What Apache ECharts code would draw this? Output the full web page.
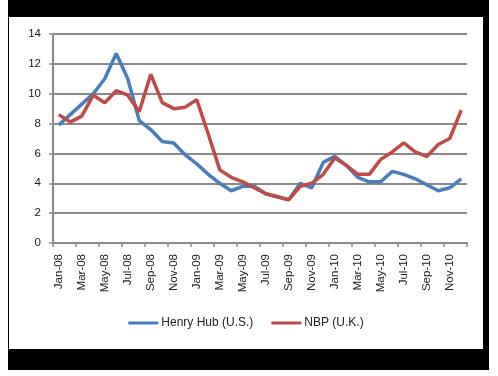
<!DOCTYPE html>
<html>
<head>
<meta charset="utf-8">
<script src="https://cdn.jsdelivr.net/npm/echarts@6/dist/echarts.min.js"></script>
<style>
    html, body { margin: 0; padding: 0; background: #fff; }
    #frame { position: absolute; left: 8px; top: 0; width: 481px; height: 370px; background: #000; }
    #graph { position: absolute; left: 9px; top: 17px; width: 474px; height: 332px; background: #fff; }
</style>
</head>
<body>
<div id="frame"></div>
<div id="graph"></div>
<script>
"use strict"

const months = [
    "Jan-08", "Feb-08", "Mar-08", "Apr-08", "May-08", "Jun-08", "Jul-08", "Aug-08", "Sep-08", "Oct-08", "Nov-08", "Dec-08",
    "Jan-09", "Feb-09", "Mar-09", "Apr-09", "May-09", "Jun-09", "Jul-09", "Aug-09", "Sep-09", "Oct-09", "Nov-09", "Dec-09",
    "Jan-10", "Feb-10", "Mar-10", "Apr-10", "May-10", "Jun-10", "Jul-10", "Aug-10", "Sep-10", "Oct-10", "Nov-10", "Dec-10"
];
const henryHub = [
    7.9, 8.6, 9.3, 10.0, 11.0, 12.7, 11.0, 8.2, 7.6, 6.8, 6.7, 5.9,
    5.3, 4.6, 4.0, 3.5, 3.8, 3.8, 3.3, 3.1, 2.9, 4.0, 3.7, 5.4,
    5.8, 5.2, 4.4, 4.1, 4.1, 4.8, 4.6, 4.3, 3.9, 3.5, 3.7, 4.3
];
const nbp = [
    8.6, 8.1, 8.5, 9.9, 9.4, 10.2, 9.9, 8.8, 11.3, 9.4, 9.0, 9.1,
    9.6, 7.3, 4.9, 4.4, 4.1, 3.7, 3.3, 3.1, 2.9, 3.8, 4.0, 4.6,
    5.7, 5.2, 4.6, 4.6, 5.6, 6.1, 6.7, 6.1, 5.8, 6.6, 7.0, 8.9
];
const seriesNames = ["Henry Hub (U.S.)", "NBP (U.K.)"];
const seriesColors = ["#4a7ebb", "#be4b48"];

const font = "'Liberation Sans', Arial, sans-serif";
const gridColor = "#8a8a8a";

const myChart = echarts.init(document.getElementById("graph"), null, { renderer: "canvas" });

const mkLine = (name, data, color) =>
    ({
        name: name,
        type: "line",
        data: data,
        showSymbol: false,
        symbol: "none",
        lineStyle: { color: color, width: 3.5 },
        itemStyle: { color: color }
    });

const option = {
    animation: false,
    backgroundColor: "#fff",
    grid: { left: 44, right: 16, top: 17, height: 209 },
    legend: {
        bottom: 15,
        left: "center",
        itemWidth: 30,
        itemHeight: 3,
        itemGap: 18,
        icon: "rect",
        textStyle: { fontFamily: font, fontSize: 12, color: "#222", padding: [0, 0, 0, -2] },
        data: seriesNames
    },
    xAxis: {
        type: "category",
        data: months,
        boundaryGap: true,
        axisLine: { lineStyle: { color: gridColor, width: 2 } },
        axisTick: { show: true, interval: 1, length: 4, lineStyle: { color: gridColor, width: 1.5 } },
        axisLabel: { interval: 1, rotate: 90, margin: 11, fontFamily: font, fontSize: 11.5, color: "#222" }
    },
    yAxis: {
        type: "value",
        min: 0,
        max: 14,
        interval: 2,
        axisLine: { show: true, lineStyle: { color: gridColor, width: 2 } },
        axisTick: { show: true, length: 4, lineStyle: { color: gridColor, width: 1.5 } },
        axisLabel: { margin: 12, fontFamily: font, fontSize: 11.5, color: "#222" },
        splitLine: { lineStyle: { color: gridColor, width: 2 } }
    },
    series: [
        mkLine(seriesNames[0], henryHub, seriesColors[0]),
        mkLine(seriesNames[1], nbp, seriesColors[1])
    ]
};
myChart.setOption(option);
</script>
</body>
</html>
